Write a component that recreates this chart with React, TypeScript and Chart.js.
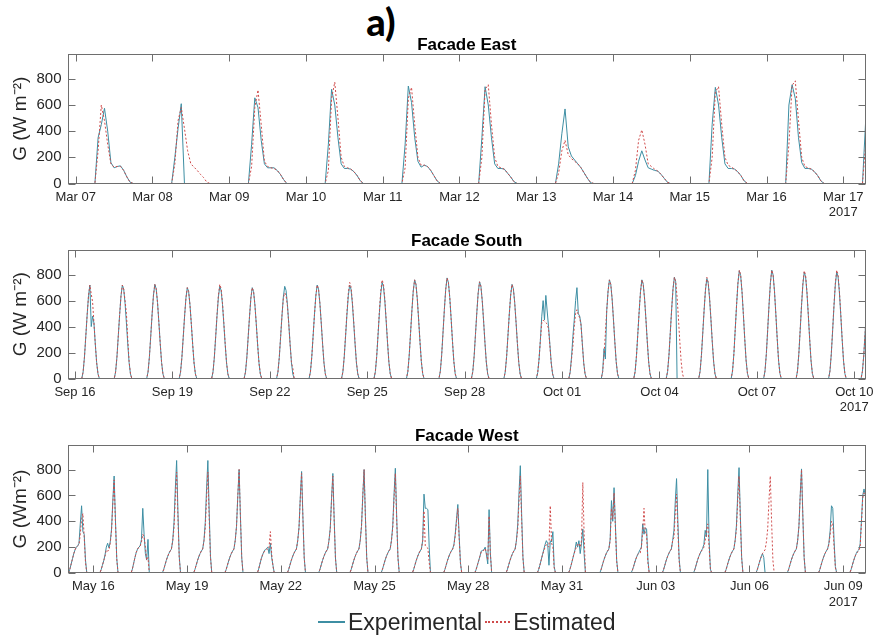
import React, { useEffect, useRef } from 'react';
import { Chart, registerables } from 'chart.js';

Chart.register(...registerables);

// ---------- data ----------
const yearLabel = '2017';
const yTicks = [0, 200, 400, 600, 800];
const seriesNames = ['Experimental', 'Estimated'];

// Facade East: day offsets from Mar 07, hourly values from 05:00
const eastTickLabels = ['Mar 07', 'Mar 08', 'Mar 09', 'Mar 10', 'Mar 11', 'Mar 12', 'Mar 13', 'Mar 14', 'Mar 15', 'Mar 16', 'Mar 17'];
const eastTickDays = [0, 1, 2, 3, 4, 5, 6, 7, 8, 9, 10];
const eastExp = [
  [0, 0, 350, 450, 575, 400, 160, 120, 130, 135, 100, 50, 10, 0, 0],
  [0, 0, 200, 420, 610, 0, 0, 0, 0, 0, 0, 0, 0, 0, 0],
  [0, 0, 300, 655, 580, 330, 150, 120, 120, 120, 100, 70, 30, 0, 0],
  [0, 0, 300, 720, 600, 350, 150, 115, 115, 110, 90, 60, 20, 0, 0],
  [0, 0, 300, 745, 620, 350, 170, 125, 140, 130, 100, 60, 20, 0, 0],
  [0, 0, 350, 740, 600, 350, 150, 115, 115, 110, 80, 50, 15, 0, 0],
  [0, 0, 150, 380, 570, 280, 210, 180, 150, 120, 80, 40, 5, 0, 0],
  [0, 0, 60, 170, 250, 180, 120, 110, 100, 95, 70, 40, 10, 0, 0],
  [0, 0, 450, 735, 600, 350, 150, 115, 115, 110, 90, 60, 20, 0, 0],
  [0, 0, 600, 755, 650, 350, 160, 115, 115, 110, 90, 60, 20, 0, 0],
  [0, 0, 480, 700],
];
const eastEst = [
  [0, 0, 250, 600, 480, 300, 150, 125, 130, 130, 100, 50, 10, 0, 0],
  [0, 0, 150, 480, 580, 420, 250, 150, 125, 100, 70, 45, 10, 0, 0],
  [0, 0, 130, 580, 715, 450, 170, 130, 120, 115, 100, 70, 30, 0, 0],
  [0, 0, 100, 650, 775, 500, 200, 130, 120, 110, 90, 60, 20, 0, 0],
  [0, 0, 120, 650, 735, 450, 200, 140, 140, 130, 100, 60, 20, 0, 0],
  [0, 0, 200, 720, 755, 450, 200, 130, 120, 110, 80, 50, 15, 0, 0],
  [0, 0, 80, 250, 330, 220, 190, 170, 150, 120, 80, 40, 10, 0, 0],
  [0, 0, 100, 330, 410, 300, 150, 130, 110, 95, 70, 40, 10, 0, 0],
  [0, 0, 200, 700, 740, 450, 200, 140, 125, 110, 90, 60, 20, 0, 0],
  [0, 0, 300, 750, 785, 480, 200, 130, 120, 110, 90, 60, 20, 0, 0],
  [0, 0, 300, 700],
];

// Facade South: day offsets from Sep 16, hourly values from 05:00
const southTickLabels = ['Sep 16', 'Sep 19', 'Sep 22', 'Sep 25', 'Sep 28', 'Oct 01', 'Oct 04', 'Oct 07', 'Oct 10'];
const southTickDays = [0, 3, 6, 9, 12, 15, 18, 21, 24];
const southExp = [
  [0, 50, 166, 328, 493, 637, 720, 400, 480, 428, 266, 122, 35, 0],
  [0, 50, 166, 328, 493, 637, 720, 688, 580, 428, 266, 122, 35, 0],
  [0, 51, 167, 330, 497, 642, 725, 692, 584, 431, 268, 123, 35, 0],
  [0, 49, 161, 319, 480, 620, 700, 669, 564, 417, 259, 119, 34, 0],
  [0, 50, 163, 323, 486, 628, 710, 678, 572, 422, 263, 121, 34, 0],
  [0, 49, 161, 319, 480, 620, 700, 669, 564, 417, 259, 119, 34, 0],
  [0, 50, 163, 323, 486, 628, 710, 678, 572, 422, 263, 121, 34, 0],
  [0, 50, 166, 328, 493, 637, 720, 688, 580, 428, 266, 122, 35, 0],
  [0, 50, 166, 328, 493, 637, 720, 688, 580, 428, 266, 122, 35, 0],
  [0, 52, 170, 337, 507, 655, 740, 707, 596, 440, 274, 126, 36, 0],
  [0, 53, 175, 346, 521, 673, 760, 726, 612, 452, 281, 129, 36, 0],
  [0, 54, 178, 353, 531, 686, 775, 740, 624, 461, 287, 132, 37, 0],
  [0, 52, 171, 339, 510, 659, 745, 711, 600, 443, 276, 127, 36, 0],
  [0, 51, 167, 330, 497, 642, 725, 692, 584, 431, 268, 123, 35, 0],
  [0, 45, 150, 300, 480, 600, 450, 640, 520, 400, 260, 120, 35, 0],
  [0, 50, 165, 325, 450, 600, 700, 500, 480, 420, 265, 120, 35, 0],
  [0, 53, 230, 150, 521, 673, 760, 726, 612, 452, 281, 129, 36, 0],
  [0, 53, 175, 346, 521, 673, 760, 726, 612, 452, 281, 129, 36, 0],
  [0, 55, 179, 355, 534, 690, 780, 745, 0, 0, 0, 0, 0, 0],
  [0, 54, 177, 350, 527, 681, 770, 735, 620, 458, 285, 131, 37, 0],
  [0, 58, 191, 378, 569, 735, 830, 793, 668, 494, 307, 141, 40, 0],
  [0, 58, 192, 380, 572, 739, 835, 797, 672, 497, 309, 142, 40, 0],
  [0, 57, 189, 373, 562, 726, 820, 783, 660, 488, 303, 139, 39, 0],
  [0, 57, 189, 373, 562, 726, 820, 783, 660, 488, 303, 139, 39, 0],
  [0, 55, 180, 355, 535],
];
const southEst = [
  [0, 50, 166, 328, 493, 637, 720, 650, 590, 428, 266, 122, 35, 0],
  [0, 50, 166, 328, 493, 637, 720, 688, 600, 500, 300, 130, 35, 0],
  [0, 51, 167, 330, 497, 642, 725, 692, 584, 431, 268, 123, 35, 0],
  [0, 49, 161, 319, 480, 620, 700, 669, 564, 417, 259, 119, 34, 0],
  [0, 51, 167, 330, 497, 642, 725, 692, 584, 431, 268, 123, 35, 0],
  [0, 49, 161, 319, 480, 620, 700, 669, 564, 417, 259, 119, 34, 0],
  [0, 50, 165, 325, 490, 620, 660, 640, 560, 420, 260, 120, 80, 0],
  [0, 50, 166, 328, 493, 637, 720, 688, 580, 428, 266, 122, 35, 0],
  [0, 52, 170, 337, 507, 655, 740, 707, 596, 440, 274, 126, 36, 0],
  [0, 53, 175, 346, 521, 673, 760, 726, 612, 452, 281, 129, 36, 0],
  [0, 53, 175, 346, 521, 673, 760, 726, 612, 452, 281, 129, 36, 0],
  [0, 54, 178, 353, 531, 686, 775, 740, 624, 461, 287, 132, 37, 0],
  [0, 52, 171, 339, 510, 659, 745, 711, 600, 443, 276, 127, 36, 0],
  [0, 51, 167, 330, 497, 642, 725, 692, 584, 431, 268, 123, 35, 0],
  [0, 45, 150, 300, 430, 450, 440, 430, 420, 380, 250, 115, 35, 0],
  [0, 50, 150, 250, 400, 500, 530, 490, 470, 410, 260, 120, 35, 0],
  [0, 53, 175, 346, 521, 673, 760, 726, 612, 452, 281, 129, 36, 0],
  [0, 53, 175, 346, 521, 673, 760, 726, 612, 452, 281, 129, 36, 0],
  [0, 55, 179, 355, 534, 690, 780, 745, 628, 464, 289, 133, 37, 0],
  [0, 55, 179, 355, 534, 690, 780, 745, 628, 464, 289, 133, 37, 0],
  [0, 58, 192, 380, 572, 739, 835, 797, 672, 497, 309, 142, 40, 0],
  [0, 58, 192, 380, 572, 739, 835, 797, 672, 497, 309, 142, 40, 0],
  [0, 58, 191, 378, 569, 735, 830, 793, 668, 494, 307, 141, 40, 0],
  [0, 58, 192, 380, 572, 739, 835, 797, 672, 497, 309, 142, 40, 0],
  [0, 55, 180, 355, 535],
];

// Facade West: day offsets from May 16 (first day is May 15), hourly values from 05:00
const westTickLabels = ['May 16', 'May 19', 'May 22', 'May 25', 'May 28', 'May 31', 'Jun 03', 'Jun 06', 'Jun 09'];
const westTickDays = [0, 3, 6, 9, 12, 15, 18, 21, 24];
const westExp = [
  [0, 30, 70, 110, 150, 180, 200, 210, 230, 380, 520, 320, 300, 100, 0, 0],
  [0, 25, 60, 95, 140, 200, 230, 195, 240, 340, 560, 750, 413, 113, 0, 0],
  [0, 30, 75, 120, 160, 185, 200, 210, 260, 500, 300, 150, 100, 260, 0, 0],
  [0, 25, 60, 95, 125, 150, 170, 185, 250, 392, 652, 870, 478, 130, 0, 0],
  [0, 25, 60, 95, 125, 150, 170, 185, 250, 392, 652, 870, 478, 130, 0, 0],
  [0, 25, 60, 95, 125, 150, 170, 185, 250, 360, 600, 800, 440, 120, 0, 0],
  [0, 0, 30, 70, 110, 140, 165, 180, 190, 200, 150, 230, 120, 60, 0, 0],
  [0, 25, 60, 95, 125, 150, 170, 185, 250, 353, 589, 785, 432, 118, 0, 0],
  [0, 25, 60, 95, 125, 150, 170, 185, 250, 347, 578, 770, 424, 116, 0, 0],
  [0, 25, 60, 95, 125, 150, 170, 185, 250, 360, 600, 800, 440, 120, 0, 0],
  [0, 25, 60, 95, 125, 150, 170, 185, 250, 365, 608, 810, 446, 122, 0, 0],
  [0, 25, 60, 95, 125, 150, 170, 185, 250, 610, 500, 500, 490, 200, 0, 0],
  [0, 25, 60, 95, 125, 150, 170, 185, 220, 300, 420, 530, 292, 80, 0, 0],
  [0, 25, 60, 95, 130, 170, 175, 180, 200, 140, 70, 490, 150, 0, 0, 0],
  [0, 25, 60, 95, 125, 150, 170, 185, 250, 374, 623, 830, 457, 125, 0, 0],
  [0, 25, 60, 100, 140, 180, 220, 250, 230, 60, 250, 240, 320, 50, 0, 0],
  [0, 25, 60, 100, 140, 180, 240, 200, 250, 150, 230, 340, 150, 0, 0, 0],
  [0, 25, 60, 95, 125, 150, 170, 185, 260, 560, 400, 660, 380, 100, 0, 0],
  [0, 20, 50, 85, 115, 140, 160, 180, 200, 380, 300, 350, 340, 100, 0, 0],
  [0, 25, 60, 95, 125, 150, 170, 185, 250, 329, 548, 730, 402, 110, 0, 0],
  [0, 25, 60, 95, 125, 150, 170, 190, 220, 330, 280, 800, 250, 30, 0, 0],
  [0, 25, 60, 95, 125, 150, 170, 185, 250, 367, 611, 815, 448, 122, 0, 0],
  [0, 25, 60, 95, 125, 150, 120, 0, 0, 0, 0, 0, 0, 0, 0, 0],
  [0, 25, 60, 95, 125, 150, 170, 185, 250, 362, 604, 805, 443, 121, 0, 0],
  [0, 25, 60, 95, 125, 150, 170, 185, 230, 330, 520, 500, 250, 50, 0, 0],
  [0, 25, 60, 95, 125, 150, 170, 180, 220, 400, 600, 650, 600],
];
const westEst = [
  [0, 30, 70, 110, 150, 180, 200, 210, 220, 300, 420, 460, 280, 80, 0, 0],
  [0, 25, 60, 95, 130, 180, 170, 175, 230, 325, 540, 720, 396, 108, 0, 0],
  [0, 30, 75, 120, 160, 185, 200, 210, 240, 300, 280, 200, 100, 120, 0, 0],
  [0, 25, 60, 95, 125, 150, 170, 185, 250, 351, 585, 780, 429, 117, 0, 0],
  [0, 25, 60, 95, 125, 150, 170, 185, 250, 351, 585, 780, 429, 117, 0, 0],
  [0, 25, 60, 95, 125, 150, 170, 185, 250, 360, 600, 800, 440, 120, 0, 0],
  [0, 0, 30, 70, 110, 140, 160, 175, 185, 180, 200, 320, 150, 50, 0, 0],
  [0, 25, 60, 95, 125, 150, 170, 185, 250, 347, 578, 770, 424, 116, 0, 0],
  [0, 25, 60, 95, 125, 150, 170, 185, 250, 338, 563, 750, 413, 113, 0, 0],
  [0, 25, 60, 95, 125, 150, 170, 185, 250, 360, 600, 800, 440, 120, 0, 0],
  [0, 25, 60, 95, 125, 150, 170, 185, 250, 347, 578, 770, 424, 116, 0, 0],
  [0, 25, 60, 95, 125, 150, 170, 185, 250, 480, 210, 200, 190, 80, 0, 0],
  [0, 25, 60, 95, 125, 150, 170, 185, 215, 290, 400, 500, 275, 75, 0, 0],
  [0, 25, 60, 95, 130, 165, 170, 175, 190, 150, 100, 440, 150, 0, 0, 0],
  [0, 25, 60, 95, 125, 150, 170, 185, 250, 338, 563, 750, 413, 113, 0, 0],
  [0, 25, 60, 100, 140, 170, 200, 220, 210, 200, 520, 230, 200, 40, 0, 0],
  [0, 25, 60, 100, 140, 170, 200, 220, 230, 200, 250, 700, 300, 0, 0, 0],
  [0, 25, 60, 95, 125, 150, 170, 185, 250, 500, 420, 620, 360, 90, 0, 0],
  [0, 20, 50, 85, 115, 140, 150, 150, 200, 320, 500, 300, 300, 80, 0, 0],
  [0, 25, 60, 95, 125, 150, 170, 185, 250, 275, 458, 610, 336, 92, 0, 0],
  [0, 25, 60, 95, 125, 150, 170, 180, 200, 250, 330, 380, 200, 30, 0, 0],
  [0, 25, 60, 95, 125, 150, 170, 185, 250, 338, 563, 750, 413, 113, 0, 0],
  [0, 25, 60, 95, 125, 150, 165, 180, 240, 340, 560, 750, 400, 100, 0, 0],
  [0, 25, 60, 95, 125, 150, 170, 185, 250, 360, 600, 800, 440, 120, 0, 0],
  [0, 25, 60, 95, 125, 150, 170, 185, 220, 300, 400, 380, 200, 40, 0, 0],
  [0, 25, 60, 95, 125, 150, 160, 175, 200, 380, 580, 620, 600],
];

// ---------- styling / layout ----------
const EXP_COLOR = '#3d8ea3';
const EST_COLOR = '#cf4a4a';
const TEXT_COLOR = '#262626';
const BOX_COLOR = '#6e6e6e';
const SANS = "'Liberation Sans', Arial, Helvetica, sans-serif";

type Panel = {
  title: string;
  yTitle: string;
  tickLabels: string[];
  tickDays: number[];
  exp: number[][];
  est: number[][];
  firstDay: number;
  firstHour: number;
  xMin: number;
  xMax: number;
  plotTop: number;
  plotBottom: number;
};

const panels: Panel[] = [
  {
    title: 'Facade East', yTitle: 'G (W m\u207B\u00B2)', tickLabels: eastTickLabels, tickDays: eastTickDays,
    exp: eastExp, est: eastEst, firstDay: 0, firstHour: 5, xMin: -0.107, xMax: 10.296,
    plotTop: 54, plotBottom: 183.5,
  },
  {
    title: 'Facade South', yTitle: 'G (W m\u207B\u00B2)', tickLabels: southTickLabels, tickDays: southTickDays,
    exp: southExp, est: southEst, firstDay: 0, firstHour: 5, xMin: -0.231, xMax: 24.36,
    plotTop: 250, plotBottom: 378.5,
  },
  {
    title: 'Facade West', yTitle: 'G (Wm\u207B\u00B2)', tickLabels: westTickLabels, tickDays: westTickDays,
    exp: westExp, est: westEst, firstDay: -1, firstHour: 5, xMin: -0.826, xMax: 24.73,
    plotTop: 445, plotBottom: 573,
  },
];

const CANVAS_H = 190;
const PAD_TOP = 4;
const PLOT_LEFT = 67.5;
const PAD_RIGHT = 11;

function buildSeries(days: number[][], firstDay: number, firstHour: number) {
  const pts: { x: number; y: number }[] = [];
  days.forEach((vals, d) => {
    vals.forEach((v, i) => {
      pts.push({ x: firstDay + d + (firstHour + i) / 24, y: v });
    });
  });
  return pts;
}

const boxPlugin = {
  id: 'matlabBox',
  afterDraw(chart: any) {
    const { ctx, chartArea: a, scales } = chart;
    ctx.save();
    ctx.strokeStyle = BOX_COLOR;
    ctx.lineWidth = 1;
    const l = Math.round(a.left) + 0.5;
    const r = Math.round(a.right) - 0.5;
    const t = Math.round(a.top) + 0.5;
    const b = Math.round(a.bottom) - 0.5;
    ctx.strokeRect(l, t, r - l, b - t);
    const tl = 7;
    ctx.beginPath();
    scales.x.ticks.forEach((tk: any) => {
      const px = Math.round(scales.x.getPixelForValue(tk.value)) + 0.5;
      ctx.moveTo(px, b); ctx.lineTo(px, b - tl);
      ctx.moveTo(px, t); ctx.lineTo(px, t + tl);
    });
    scales.y.ticks.forEach((tk: any) => {
      const py = Math.round(scales.y.getPixelForValue(tk.value)) + 0.5;
      ctx.moveTo(l, py); ctx.lineTo(l + tl, py);
      ctx.moveTo(r, py); ctx.lineTo(r - tl, py);
    });
    ctx.stroke();
    ctx.restore();
  },
};

function PanelChart({ p }: { p: Panel }) {
  const ref = useRef<HTMLCanvasElement | null>(null);
  useEffect(() => {
    if (!ref.current) return;
    const plotH = p.plotBottom - p.plotTop;
    const xAxisH = CANVAS_H - PAD_TOP - plotH;
    const last = p.tickLabels.length - 1;
    const chart = new Chart(ref.current, {
      type: 'line',
      data: {
        datasets: [
          {
            label: seriesNames[0],
            data: buildSeries(p.exp, p.firstDay, p.firstHour),
            borderColor: EXP_COLOR,
            borderWidth: 1,
            pointRadius: 0,
            tension: 0,
            order: 1,
          },
          {
            label: seriesNames[1],
            data: buildSeries(p.est, p.firstDay, p.firstHour),
            borderColor: EST_COLOR,
            borderWidth: 1,
            borderDash: [2, 2],
            pointRadius: 0,
            tension: 0,
            order: 0,
          },
        ],
      },
      options: {
        animation: false,
        responsive: false,
        maintainAspectRatio: false,
        layout: { padding: { top: PAD_TOP, right: PAD_RIGHT, left: 0, bottom: 0 } },
        plugins: { legend: { display: false }, tooltip: { enabled: false }, title: { display: false } },
        events: [],
        scales: {
          x: {
            type: 'linear',
            min: p.xMin,
            max: p.xMax,
            afterBuildTicks: (s: any) => { s.ticks = p.tickDays.map((v) => ({ value: v })); },
            afterFit: (s: any) => { s.height = xAxisH; s.paddingLeft = 0; s.paddingRight = 0; },
            grid: { display: false, drawTicks: false },
            border: { display: false },
            ticks: {
              autoSkip: false,
              maxRotation: 0,
              minRotation: 0,
              padding: 6,
              color: TEXT_COLOR,
              font: { family: SANS, size: 13 },
              callback: (_v: any, i: number) => (i === last ? [p.tickLabels[i], yearLabel] : p.tickLabels[i]),
            },
          },
          y: {
            type: 'linear',
            min: 0,
            max: 990,
            afterBuildTicks: (s: any) => { s.ticks = yTicks.map((v) => ({ value: v })); },
            afterFit: (s: any) => { s.width = PLOT_LEFT; s.paddingTop = 0; s.paddingBottom = 0; },
            grid: { display: false, drawTicks: false },
            border: { display: false },
            ticks: {
              padding: 6,
              color: TEXT_COLOR,
              font: { family: SANS, size: 15 },
            },
            title: {
              display: true,
              text: p.yTitle,
              color: TEXT_COLOR,
              font: { family: SANS, size: 19 },
              padding: { top: 9, bottom: 0 },
            },
          },
        },
      },
      plugins: [boxPlugin],
    } as any);
    return () => chart.destroy();
  }, [p]);
  return (
    <canvas
      ref={ref}
      width={877}
      height={CANVAS_H}
      style={{ position: 'absolute', left: 0, top: p.plotTop - PAD_TOP, width: 877, height: CANVAS_H }}
    />
  );
}

export default function App() {
  return (
    <div style={{ position: 'absolute', left: 0, top: 0, width: 877, height: 639, background: '#fff', overflow: 'hidden' }}>
      {panels.map((p) => (
        <PanelChart key={p.title} p={p} />
      ))}
      <div
        style={{
          position: 'absolute', left: 331, width: 100, top: 0, textAlign: 'center',
          fontFamily: 'Lato, sans-serif', fontWeight: 900, fontSize: 38, lineHeight: '42px', color: '#000',
        }}
      >
        a)
      </div>
      {panels.map((p) => (
        <div
          key={'t' + p.title}
          style={{
            position: 'absolute', left: PLOT_LEFT, width: 877 - PAD_RIGHT - PLOT_LEFT, top: p.plotTop - 18,
            textAlign: 'center', fontFamily: SANS, fontWeight: 700, fontSize: 17, lineHeight: '18px', color: '#000',
          }}
        >
          {p.title}
        </div>
      ))}
      <div
        style={{
          position: 'absolute', left: 318, top: 608, display: 'flex', alignItems: 'center',
          fontFamily: SANS, fontSize: 23, lineHeight: '28px', color: TEXT_COLOR, whiteSpace: 'nowrap',
        }}
      >
        <span style={{ display: 'inline-block', width: 27, borderTop: `2px solid ${EXP_COLOR}`, marginRight: 3 }} />
        <span>{seriesNames[0]}</span>
        <span style={{ display: 'inline-block', width: 25, borderTop: `2px dotted ${EST_COLOR}`, marginLeft: 3, marginRight: 3 }} />
        <span>{seriesNames[1]}</span>
      </div>
    </div>
  );
}
